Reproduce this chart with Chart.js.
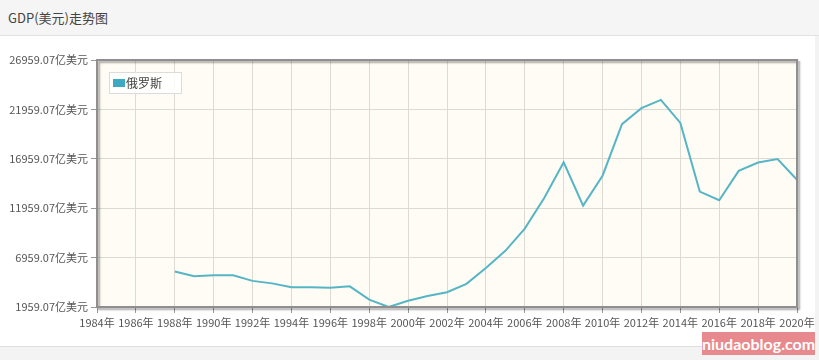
<!DOCTYPE html>
<html><head><meta charset="utf-8">
<script src="https://cdn.jsdelivr.net/npm/chart.js@4/dist/chart.umd.min.js"></script>
<style>
html,body{margin:0;padding:0;width:819px;height:360px;background:#f3f3f3;overflow:hidden;font-family:"Noto Sans CJK SC",sans-serif}
#hdr{position:absolute;left:0;top:0;width:819px;height:35px;background:#f5f5f5;border-bottom:1px solid #e2e2e2}
#hdr span{position:absolute;left:8px;top:8px;font-size:13px;color:#444}
#panel{position:absolute;left:0;top:36px;width:815px;height:310px;background:#fff;border-bottom:1px solid #dedede}
#wrap{position:absolute;left:0;top:36px;width:819px;height:310px}
#legend{position:absolute;left:109px;top:72px;width:73px;height:22px;border:1px solid #dcdcdc;background:rgba(255,255,255,0.85);font-size:12px;color:#444;box-sizing:border-box}
#legend i{position:absolute;left:3px;top:6px;width:12px;height:8px;background:#3eaac2}
#legend span{position:absolute;left:16px;top:2px;line-height:16px}
#wm{position:absolute;left:702px;top:332px;width:113px;height:23px;background:#e8898d;color:#fff;font-family:Lato,sans-serif;font-weight:bold;font-size:16px;line-height:23px;text-align:center;white-space:nowrap;overflow:hidden}
</style></head>
<body>
<div id="hdr"><span>GDP(美元)走势图</span></div>
<div id="panel"></div>
<div id="wrap"><canvas id="c" width="819" height="310"></canvas></div>
<div id="legend"><i></i><span>俄罗斯</span></div>
<div id="wm">niudaoblog.com</div>
<script>
const seriesName = "俄罗斯";
const years = [1988,1989,1990,1991,1992,1993,1994,1995,1996,1997,1998,1999,2000,2001,2002,2003,2004,2005,2006,2007,2008,2009,2010,2011,2012,2013,2014,2015,2016,2017,2018,2019,2020];
const gdp = [5547,5065,5168,5180,4602,4351,3951,3955,3917,4049,2710,1959.07,2597,3066,3455,4303,5910,7640,9899,12997,16608,12226,15249,20459,22083,22925,20592,13635,12768,15742,16576,16931,14835];
const xTicks = [1984,1986,1988,1990,1992,1994,1996,1998,2000,2002,2004,2006,2008,2010,2012,2014,2016,2018,2020];
const yTicks = [1959.07,6959.07,11959.07,16959.07,21959.07,26959.07];

const plotDeco = {
  id:'plotDeco',
  beforeDraw(chart){
    const {ctx, chartArea:a} = chart;
    ctx.save();
    ctx.fillStyle = '#fffcf5';
    ctx.fillRect(a.left, a.top, a.right-a.left, a.bottom-a.top);
    ctx.restore();
  },
  afterDraw(chart){
    const {ctx, chartArea:a} = chart;
    ctx.save();
    ctx.shadowColor = 'rgba(0,0,0,0.35)';
    ctx.shadowOffsetX = 2; ctx.shadowOffsetY = 2; ctx.shadowBlur = 2;
    ctx.strokeStyle = '#8f8f8f';
    ctx.lineWidth = 2;
    ctx.strokeRect(a.left, a.top, a.right-a.left, a.bottom-a.top);
    ctx.restore();
  }
};

new Chart(document.getElementById('c'), {
  type:'line',
  data:{ datasets:[{
    label: seriesName,
    data: years.map((y,i)=>({x:y, y:gdp[i]})),
    borderColor:'#56b5c5',
    backgroundColor:'#3eaac2',
    borderWidth:2,
    pointRadius:0,
    tension:0,
    fill:false
  }]},
  options:{
    responsive:false,
    animation:false,
    layout:{padding:{top:24,right:22,left:0,bottom:0}},
    plugins:{legend:{display:false},tooltip:{enabled:false}},
    scales:{
      x:{
        type:'linear', min:1984, max:2020,
        afterBuildTicks(s){ s.ticks = xTicks.map(v=>({value:v})); },
        afterFit(s){ s.height = 39; },
        grid:{color:'#dedad2', lineWidth:1, tickLength:6, tickColor:'#999'},
        border:{display:false},
        ticks:{autoSkip:false, maxRotation:0, padding:3, color:'#555', font:{family:'"Noto Sans CJK SC", sans-serif', size:11}, callback:v=>v+'年'}
      },
      y:{
        type:'linear', min:yTicks[0], max:yTicks[yTicks.length-1],
        afterBuildTicks(s){ s.ticks = yTicks.map(v=>({value:v})); },
        afterFit(s){ s.width = 97; },
        grid:{color:'#dedad2', lineWidth:1, tickLength:6, tickColor:'#999'},
        border:{display:false},
        ticks:{padding:3, color:'#555', font:{family:'"Noto Sans CJK SC", sans-serif', size:11}, callback:v=>Number(v).toFixed(2)+'亿美元'}
      }
    }
  },
  plugins:[plotDeco]
});
</script>
</body></html>
